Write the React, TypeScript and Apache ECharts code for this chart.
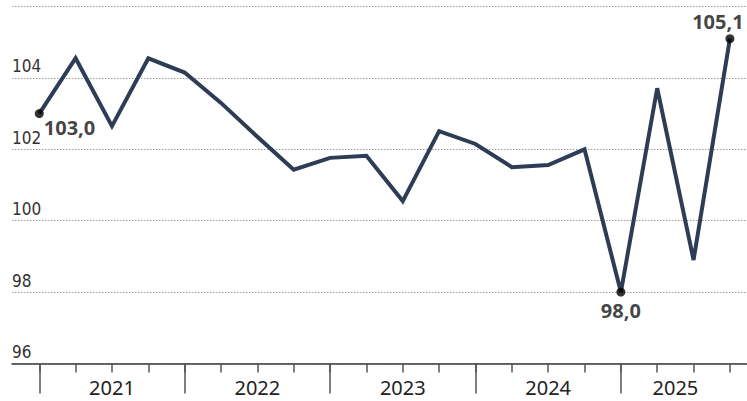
import React, { useEffect, useRef } from 'react';
import * as echarts from 'echarts';

const quarters = [
  '2021 T1', '2021 T2', '2021 T3', '2021 T4',
  '2022 T1', '2022 T2', '2022 T3', '2022 T4',
  '2023 T1', '2023 T2', '2023 T3', '2023 T4',
  '2024 T1', '2024 T2', '2024 T3', '2024 T4',
  '2025 T1', '2025 T2', '2025 T3', '2025 T4',
];
const values = [
  103.0, 104.55, 102.65, 104.55,
  104.15, 103.3, 102.35, 101.43,
  101.76, 101.82, 100.55, 102.51,
  102.15, 101.5, 101.56, 102.0,
  98.0, 103.71, 98.9, 105.1,
];
const years = ['2021', '2022', '2023', '2024', '2025'];
const quartersPerYear = 4;
const yMin = 96;
const yMax = 106;
const yStep = 2;

const labelFont = '"Noto Sans", "Open Sans", sans-serif';
const narrowFont = '"Liberation Sans Narrow", "Arial Narrow", "DejaVu Sans Condensed", sans-serif';

export default function App() {
  const ref = useRef<HTMLDivElement>(null);
  useEffect(() => {
    if (!ref.current) return;
    const chart = echarts.init(ref.current, null, { renderer: 'svg' });
    const n = values.length;
    const indices = quarters.map((_, i) => i);
    const yearStarts = years.map((_, k) => k * quartersPerYear);
    const yearCenters = yearStarts.map((s) => (s + Math.min(s + quartersPerYear, n - 1)) / 2);
    const minIdx = values.indexOf(Math.min(...values));
    const fmt = (v: number) => v.toFixed(1).replace('.', ',');

    const labelFor = (i: number) => {
      if (i === 0) return { position: [9, 8], align: 'left', verticalAlign: 'top' };
      if (i === n - 1) return { position: 'top', distance: 3, offset: [-12, 0] };
      return { position: 'bottom', distance: 4 };
    };
    const highlights = [0, minIdx, n - 1];

    chart.setOption({
      animation: false,
      grid: { left: 12, right: 0, top: 6.5, bottom: 37.5, containLabel: false },
      xAxis: [
        {
          type: 'value',
          min: -0.75,
          max: 19.47,
          axisLine: { show: true, lineStyle: { color: '#3a3a3a', width: 1.5 } },
          axisTick: { show: true, customValues: indices, length: 9, lineStyle: { color: '#555', width: 1.5 } },
          axisLabel: {
            customValues: yearCenters,
            formatter: (v: number) => {
              const k = yearCenters.findIndex((c) => Math.abs(c - v) < 1e-6);
              return k >= 0 ? years[k] : '';
            },
            fontSize: 20,
            color: '#222',
            margin: 14,
            fontFamily: labelFont,
          },
          splitLine: { show: false },
        },
        {
          type: 'value',
          min: -0.75,
          max: 19.47,
          position: 'bottom',
          axisLine: { show: false },
          axisTick: { show: true, customValues: yearStarts, length: 30, lineStyle: { color: '#555', width: 1.5 } },
          axisLabel: { show: false },
          splitLine: { show: false },
        },
      ],
      yAxis: {
        type: 'value',
        min: yMin,
        max: yMax,
        interval: yStep,
        axisLine: { show: false },
        axisTick: { show: false },
        splitLine: { show: true, lineStyle: { type: [1.5, 1.5], color: '#9a9a9a', width: 1 } },
        axisLabel: {
          inside: true,
          showMaxLabel: false,
          verticalAlign: 'bottom',
          align: 'left',
          margin: 0,
          padding: [0, 0, 3, 0],
          fontSize: 17,
          fontFamily: narrowFont,
          color: '#333',
        },
      },
      series: [
        {
          type: 'line',
          data: values.map((v, i) => [i, v]),
          symbol: 'none',
          lineStyle: { color: '#2e3d55', width: 4, join: 'miter' },
          z: 2,
        },
        {
          type: 'scatter',
          data: highlights.map((i) => ({ value: [i, values[i]], label: labelFor(i) })),
          symbol: 'circle',
          symbolSize: 9,
          itemStyle: { color: '#000' },
          label: {
            show: true,
            formatter: (p: any) => fmt(p.value[1]),
            fontWeight: 'bold',
            fontSize: 20,
            color: '#111',
            fontFamily: labelFont,
          },
          z: 3,
        },
      ],
    });
    return () => chart.dispose();
  }, []);
  return <div ref={ref} style={{ position: 'fixed', left: 0, top: 0, width: 747, height: 401, background: '#fff' }} />;
}
